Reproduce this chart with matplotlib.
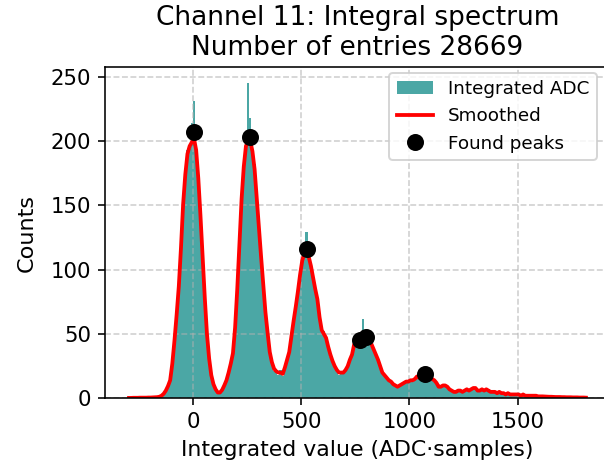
import numpy as np
import matplotlib
matplotlib.use("Agg")
import matplotlib.pyplot as plt

# histogram binning (ADC*samples)
bin_lo = -300
bin_w = 10
n_bins = 212

counts = [
    0, 1, 0, 0, 1, 0, 1, 0, 1, 0,
    1, 0, 1, 1, 1, 2, 4, 6, 11, 14,
    27, 47, 63, 88, 114, 153, 170, 193, 194, 214,
    231, 196, 168, 148, 106, 80, 48, 33, 17, 12,
    6, 4, 5, 6, 9, 15, 19, 28, 34, 57,
    83, 124, 150, 183, 198, 245, 218, 190, 182, 152,
    135, 107, 92, 65, 55, 34, 30, 21, 23, 18,
    22, 17, 25, 28, 38, 46, 62, 68, 84, 94,
    109, 112, 129, 108, 104, 92, 87, 75, 65, 51,
    52, 46, 41, 32, 30, 23, 23, 18, 21, 19,
    23, 24, 31, 33, 43, 42, 46, 44, 62, 47,
    50, 45, 43, 36, 35, 28, 26, 19, 19, 15,
    15, 12, 12, 9, 10, 9, 12, 11, 14, 12,
    15, 13, 16, 16, 17, 17, 21, 18, 19, 16,
    16, 13, 13, 8, 10, 9, 11, 8, 7, 5,
    6, 4, 7, 5, 6, 5, 8, 6, 7, 9,
    7, 6, 5, 8, 6, 6, 7, 4, 5, 6,
    4, 5, 3, 4, 3, 4, 2, 3, 4, 2,
    3, 2, 3, 2, 1, 2, 2, 1, 2, 1,
    2, 1, 1, 2, 1, 1, 0, 1, 1, 0,
    1, 1, 0, 1, 0, 1, 0, 0, 1, 0,
    0, 1,
]

smoothed = [
    0.3, 0.3, 0.4, 0.4, 0.4, 0.5, 0.5, 0.5, 0.5, 0.6,
    0.6, 0.7, 0.8, 0.9, 1.2, 2, 3.5, 6, 9.5, 14,
    27, 45, 65, 87, 117, 151, 174, 190, 196, 199,
    202, 193, 171, 142, 110, 78, 50, 31, 18, 11,
    7, 4.5, 4.5, 6.5, 10, 14, 20, 27, 35, 55,
    85, 120, 155, 180, 196, 200, 200, 192, 178, 155,
    132, 110, 89, 67, 51, 36, 28, 23, 21, 20,
    20, 19, 24, 30, 36, 48, 60, 71, 83, 96,
    107, 113, 115, 110, 103, 94, 85, 77, 63, 53,
    50, 47, 40, 34, 29, 25, 22, 20, 20, 20,
    22, 25, 30, 34, 42, 44, 44, 46, 47, 48,
    47, 46, 42, 38, 34, 30, 25, 20, 18, 16,
    14, 13, 11, 10, 9, 10, 11, 12, 13, 13,
    14, 14, 15, 17, 16, 18, 19, 19, 18, 17,
    15, 14, 12, 9, 9, 10, 10, 9, 7, 6,
    5, 5, 6, 6, 5, 6, 7, 6, 7, 8,
    8, 6, 6, 7, 6, 7, 6, 5, 5, 5,
    4, 5, 4, 4, 3, 4, 3, 3, 3, 3,
    3, 2, 3, 2, 2, 2, 2, 2, 2, 1.5,
    1.5, 1.5, 1.4, 1.3, 1.2, 1.2, 1.1, 1.0, 1.0, 1.0,
    0.9, 0.9, 0.8, 0.8, 0.8, 0.7, 0.7, 0.7, 0.6, 0.6,
    0.6, 0.5,
]

peak_x = [5, 263, 525, 770, 800, 1070]
peak_y = [207, 203, 116, 45, 48, 19]

channel = 11
n_entries = 28669

edges = bin_lo + bin_w * np.arange(n_bins + 1)
centers = edges[:-1] + bin_w / 2

fig = plt.figure(figsize=(604 / 144, 473 / 144), dpi=144)
ax = fig.add_axes([0.1738, 0.1579, 0.836, 0.6998])

ax.stairs(counts, edges, fill=True, color="#4ba7a5", label="Integrated ADC")
ax.plot(centers, smoothed, color="red", lw=1.9, label="Smoothed")
ax.plot(peak_x, peak_y, "o", color="black", ms=7.5, label="Found peaks")

ax.grid(True, linestyle="--", color="#b0b0b0", alpha=0.6)
ax.set_xticks([0, 500, 1000, 1500])
ax.tick_params(labelsize=10.6)
ax.set_xlabel("Integrated value (ADC\u00b7samples)", fontsize=11)
ax.set_ylabel("Counts", fontsize=11.2, labelpad=7)
ax.set_title("Channel {}: Integral spectrum\nNumber of entries {}".format(channel, n_entries),
             fontsize=13.2)
ax.legend(loc="upper right", fontsize=9.2, borderaxespad=0.3,
          bbox_to_anchor=(0.985, 1.0))

fig.savefig("out.png", dpi=144)
